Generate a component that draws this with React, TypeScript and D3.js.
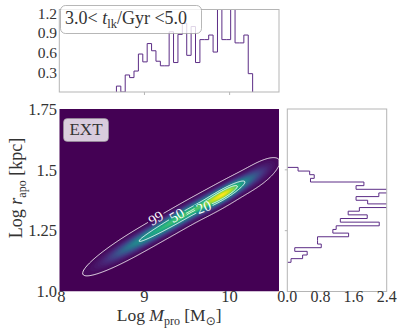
import React, { useMemo } from 'react';
import * as d3 from 'd3';

const W = 399;
const H = 332;

// ---- data ----
// top panel: Log M_pro histogram, 50 bins across the x range
const massRange = [8, 10.58];
const massCounts = [
  0, 0, 0, 0, 0, 0, 0, 0, 0, 0, 0, 0, 0,
  0.09, 0, 0.26, 0.22, 0.32, 0.58, 0.46, 0.74, 0.63, 0.47, 0.40, 0.40,
  0.92, 0.45, 0.88, 1.05, 0.56, 1.0, 0.45, 0.80, 0.80, 0.87, 0.61, 1.4,
  0.80, 0.80, 1.4, 0.75, 0.75, 0.87, 0.28,
  0, 0, 0, 0, 0, 0,
];
const topTicks = [0.3, 0.6, 0.9, 1.2];

// right panel: Log r_apo histogram, 50 bins across the y range
const rapoRange = [1.0, 1.75];
const rapoCounts = [
  0, 0, 0, 0, 0, 0, 0, 0,
  0.09, 0.37, 0.48, 0.18, 0.82, 0.73, 0.73, 1.48, 1.10, 1.18, 2.22, 1.28,
  1.93, 1.47, 1.74, 2.5, 1.94, 1.66, 2.21, 2.5, 1.66, 1.85, 0.56, 0.65,
  0.54, 0.26,
  0, 0, 0, 0, 0, 0, 0, 0, 0, 0, 0, 0, 0, 0, 0, 0,
];
const sideTicks = [0.0, 0.8, 1.6, 2.4];

const massTicks = [8, 9, 10];
const rapoTicks = [1.0, 1.25, 1.5, 1.75];
const rapoTickLabels = ['1.0', '1.25', '1.5', '1.75'];

// density blobs along the ridge (centre, spread along x, scatter in y, weight)
const ridgeSlope = 0.2;
const compX = [9.95, 9.45, 8.9, 10.3];
const compY = [1.403, 1.31, 1.2, 1.474];
const compSx = [0.18, 0.32, 0.25, 0.13];
const compSy = [0.019, 0.02, 0.021, 0.023];
const compW = [1.0, 0.9, 0.42, 0.2];

const percentLevels = [99, 50, 20];
const labelTargets = [[155.5, 216.5], [177, 215.5], [203.5, 207]]; // px, where clabel sits

// ---- layout ----
const MAIN = { left: 59.3, right: 279, top: 109, bottom: 291.5 };
const TOP = { left: 59.3, right: 279, top: 9.5, bottom: 92 };
const SIDE = { left: 287.3, right: 386.7, top: 109, bottom: 291.5 };

const FONT = '"Liberation Serif", "DejaVu Serif", serif';
const TXT = '#333';
const FRAME = '#b5b5b5';
const HIST = '#5c2d86';

const xMain = d3.scaleLinear().domain(massRange).range([MAIN.left, MAIN.right]);
const yMain = d3.scaleLinear().domain(rapoRange).range([MAIN.bottom, MAIN.top]);
const yTop = d3.scaleLinear().domain([0, 1.26]).range([TOP.bottom, TOP.top]);
const xSide = d3.scaleLinear().domain([0, 2.4]).range([SIDE.left, SIDE.right]);

function density(x: number, y: number) {
  let s = 0;
  for (let c = 0; c < compW.length; c++) {
    const dx = (x - compX[c]) / compSx[c];
    const dy = (y - (compY[c] + ridgeSlope * (x - compX[c]))) / compSy[c];
    s += (compW[c] * Math.exp(-0.5 * (dx * dx + dy * dy))) / compSy[c];
  }
  return s;
}

function nonZeroSpan(arr: number[]) {
  const first = arr.findIndex((v) => v > 0);
  let last = arr.length - 1;
  while (last > 0 && arr[last] <= 0) last--;
  return [first, last];
}

export default function App() {
  const nx = 220;
  const ny = 183;

  const chart = useMemo(() => {
    const values = new Float64Array(nx * ny);
    const gx = d3.scaleLinear().domain([0, nx]).range(massRange);
    const gy = d3.scaleLinear().domain([0, ny]).range([rapoRange[1], rapoRange[0]]);
    for (let j = 0; j < ny; j++) {
      for (let i = 0; i < nx; i++) {
        values[j * nx + i] = density(gx(i + 0.5), gy(j + 0.5));
      }
    }
    const vmax = d3.max(values) as number;
    for (let k = 0; k < values.length; k++) values[k] /= vmax;

    // grid coords -> pixels
    const sx = (MAIN.right - MAIN.left) / nx;
    const sy = (MAIN.bottom - MAIN.top) / ny;
    const proj = d3.geoTransform({
      point(x: number, y: number) {
        this.stream.point(MAIN.left + x * sx, MAIN.top + y * sy);
      },
    });
    const path = d3.geoPath(proj);

    const nLev = 64;
    const thresholds = d3.range(1, nLev).map((i) => i / nLev);
    const gen = d3.contours().size([nx, ny]);
    const bands = gen.thresholds(thresholds)(Array.from(values)).map((c) => ({
      d: path(c as any) || '',
      fill: d3.interpolateViridis(Math.min(1, c.value + 0.5 / nLev)),
    }));

    // enclosed-mass levels
    const sorted = Array.from(values).sort((a, b) => b - a);
    const total = d3.sum(sorted);
    const levelFor = (p: number) => {
      let acc = 0;
      for (let k = 0; k < sorted.length; k++) {
        acc += sorted[k];
        if (acc >= (p / 100) * total) return sorted[k];
      }
      return sorted[sorted.length - 1];
    };
    const lines = percentLevels.map((p, li) => {
      const lv = levelFor(p);
      const c = gen.thresholds([lv])(Array.from(values))[0];
      const d = path(c as any) || '';
      // snap label onto the contour near its target spot
      const [tx, ty] = labelTargets[li];
      let best = { dist: Infinity, x: tx, y: ty, ang: -30 };
      c.coordinates.forEach((poly) =>
        poly.forEach((ring) => {
          const pts = ring.map(([a, b]) => [MAIN.left + a * sx, MAIN.top + b * sy]);
          pts.forEach((pt, k) => {
            const dd = (pt[0] - tx) ** 2 + (pt[1] - ty) ** 2;
            if (dd < best.dist) {
              const p0 = pts[(k - 4 + pts.length) % pts.length];
              const p1 = pts[(k + 4) % pts.length];
              let ang = (Math.atan2(p1[1] - p0[1], p1[0] - p0[0]) * 180) / Math.PI;
              if (ang > 90) ang -= 180;
              if (ang < -90) ang += 180;
              best = { dist: dd, x: pt[0], y: pt[1], ang };
            }
          });
        })
      );
      return { p, d, label: best };
    });
    return { bands, lines };
  }, []);

  // histogram outlines
  const mEdge = (k: number) => massRange[0] + (k * (massRange[1] - massRange[0])) / massCounts.length;
  const [mf, ml] = nonZeroSpan(massCounts);
  const topPts: [number, number][] = [[xMain(mEdge(mf)), yTop(0)]];
  for (let k = mf; k <= ml; k++) {
    topPts.push([xMain(mEdge(k)), yTop(massCounts[k])]);
    topPts.push([xMain(mEdge(k + 1)), yTop(massCounts[k])]);
  }
  topPts.push([xMain(mEdge(ml + 1)), yTop(0)]);

  const rEdge = (j: number) => rapoRange[0] + (j * (rapoRange[1] - rapoRange[0])) / rapoCounts.length;
  const [rf, rl] = nonZeroSpan(rapoCounts);
  const sidePts: [number, number][] = [[xSide(0), yMain(rEdge(rf))]];
  for (let j = rf; j <= rl; j++) {
    sidePts.push([xSide(rapoCounts[j]), yMain(rEdge(j))]);
    sidePts.push([xSide(rapoCounts[j]), yMain(rEdge(j + 1))]);
  }
  sidePts.push([xSide(0), yMain(rEdge(rl + 1))]);
  const line = d3.line();

  return (
    <svg width={W} height={H} style={{ position: 'absolute', left: 0, top: 0, background: '#fff' }} fontFamily={FONT}>
      <defs>
        <clipPath id="clipMain">
          <rect x={MAIN.left} y={MAIN.top} width={MAIN.right - MAIN.left} height={MAIN.bottom - MAIN.top} />
        </clipPath>
        <clipPath id="clipTop">
          <rect x={TOP.left} y={TOP.top} width={TOP.right - TOP.left} height={TOP.bottom - TOP.top} />
        </clipPath>
        <clipPath id="clipSide">
          <rect x={SIDE.left} y={SIDE.top} width={SIDE.right - SIDE.left} height={SIDE.bottom - SIDE.top} />
        </clipPath>
        <mask id="lblMask">
          <rect x={0} y={0} width={W} height={H} fill="#fff" />
          {chart.lines.map((l) => (
            <rect
              key={l.p}
              x={-9}
              y={-5}
              width={18}
              height={10}
              fill="#000"
              transform={`translate(${l.label.x},${l.label.y}) rotate(${l.label.ang})`}
            />
          ))}
        </mask>
      </defs>

      {/* main density panel */}
      <g clipPath="url(#clipMain)">
        <rect x={MAIN.left} y={MAIN.top} width={MAIN.right - MAIN.left} height={MAIN.bottom - MAIN.top} fill={d3.interpolateViridis(0)} />
        {chart.bands.map((b, i) => (
          <path key={i} d={b.d} fill={b.fill} stroke="none" />
        ))}
        <g mask="url(#lblMask)">
          {chart.lines.map((l) => (
            <path key={l.p} d={l.d} fill="none" stroke="#fff" strokeWidth={1} strokeOpacity={0.9} />
          ))}
        </g>
        {chart.lines.map((l) => (
          <text
            key={l.p}
            transform={`translate(${l.label.x},${l.label.y}) rotate(${l.label.ang})`}
            textAnchor="middle"
            dy="0.35em"
            fontSize={14.5}
            fill="#fff"
          >
            {l.p}
          </text>
        ))}
      </g>

      {/* EXT badge */}
      <rect x={63.5} y={118.5} width={45} height={23} rx={4} fill="#fff" fillOpacity={0.8} stroke="#999" strokeOpacity={0.6} />
      <text x={86} y={135} textAnchor="middle" fontSize={17} fill={TXT}>EXT</text>

      {/* main axes tick labels */}
      {rapoTicks.map((t, i) => (
        <text key={t} x={57} y={yMain(t)} dy="0.35em" textAnchor="end" fontSize={16.5} fill={TXT}>
          {rapoTickLabels[i]}
        </text>
      ))}
      {massTicks.map((t) => (
        <text key={t} x={xMain(t) + (t === 8 ? 2 : 0)} y={301.5} textAnchor="middle" fontSize={16.5} fill={TXT}>
          {t}
        </text>
      ))}
      <text x={(MAIN.left + MAIN.right) / 2} y={320.5} textAnchor="middle" fontSize={17.5} fill={TXT}>
        Log <tspan fontStyle="italic">M</tspan>
        <tspan fontSize={12} dy={4}>pro</tspan>
        <tspan dy={-4}> [M</tspan>
        <tspan fontSize={12} dy={4} fontFamily='"DejaVu Sans", sans-serif'>⊙</tspan>
        <tspan dy={-4}>]</tspan>
      </text>
      <text transform={`translate(22,188) rotate(-90)`} textAnchor="middle" fontSize={18} fill={TXT}>
        Log <tspan fontStyle="italic">r</tspan>
        <tspan fontSize={12} dy={4}>apo</tspan>
        <tspan dy={-4}> [kpc]</tspan>
      </text>

      {/* top histogram */}
      <g clipPath="url(#clipTop)">
        <path d={line(topPts) || ''} fill="none" stroke={HIST} strokeWidth={1} />
      </g>
      <rect x={TOP.left} y={TOP.top} width={TOP.right - TOP.left} height={TOP.bottom - TOP.top} fill="none" stroke={FRAME} strokeWidth={1} />
      {massTicks.slice(1).map((t) => (
        <line key={t} x1={xMain(t)} x2={xMain(t)} y1={TOP.bottom} y2={TOP.bottom + 3} stroke={FRAME} />
      ))}
      {topTicks.map((t) => (
        <text key={t} x={57} y={yTop(t)} dy="0.35em" textAnchor="end" fontSize={15.5} fill={TXT}>
          {t.toFixed(1)}
        </text>
      ))}
      <rect x={60.5} y={5.5} width={141} height={28} rx={5} fill="#fff" fillOpacity={0.8} stroke="#999" strokeOpacity={0.7} />
      <text x={65} y={24} fontSize={18} fill={TXT}>
        3.0&lt; <tspan fontStyle="italic">t</tspan>
        <tspan fontSize={12.5} dy={4}>lk</tspan>
        <tspan dy={-4}>/Gyr &lt;5.0</tspan>
      </text>

      {/* right histogram */}
      <g clipPath="url(#clipSide)">
        <path d={line(sidePts) || ''} fill="none" stroke={HIST} strokeWidth={1} />
      </g>
      <rect x={SIDE.left} y={SIDE.top} width={SIDE.right - SIDE.left} height={SIDE.bottom - SIDE.top} fill="none" stroke={FRAME} strokeWidth={1} />
      {rapoTicks.slice(1, 3).map((t) => (
        <line key={t} x1={SIDE.left - 2.5} x2={SIDE.left} y1={yMain(t)} y2={yMain(t)} stroke={FRAME} />
      ))}
      {sideTicks.map((t) => (
        <text key={t} x={xSide(t)} y={301.5} textAnchor="middle" fontSize={16} fill={TXT}>
          {t.toFixed(1)}
        </text>
      ))}
    </svg>
  );
}
